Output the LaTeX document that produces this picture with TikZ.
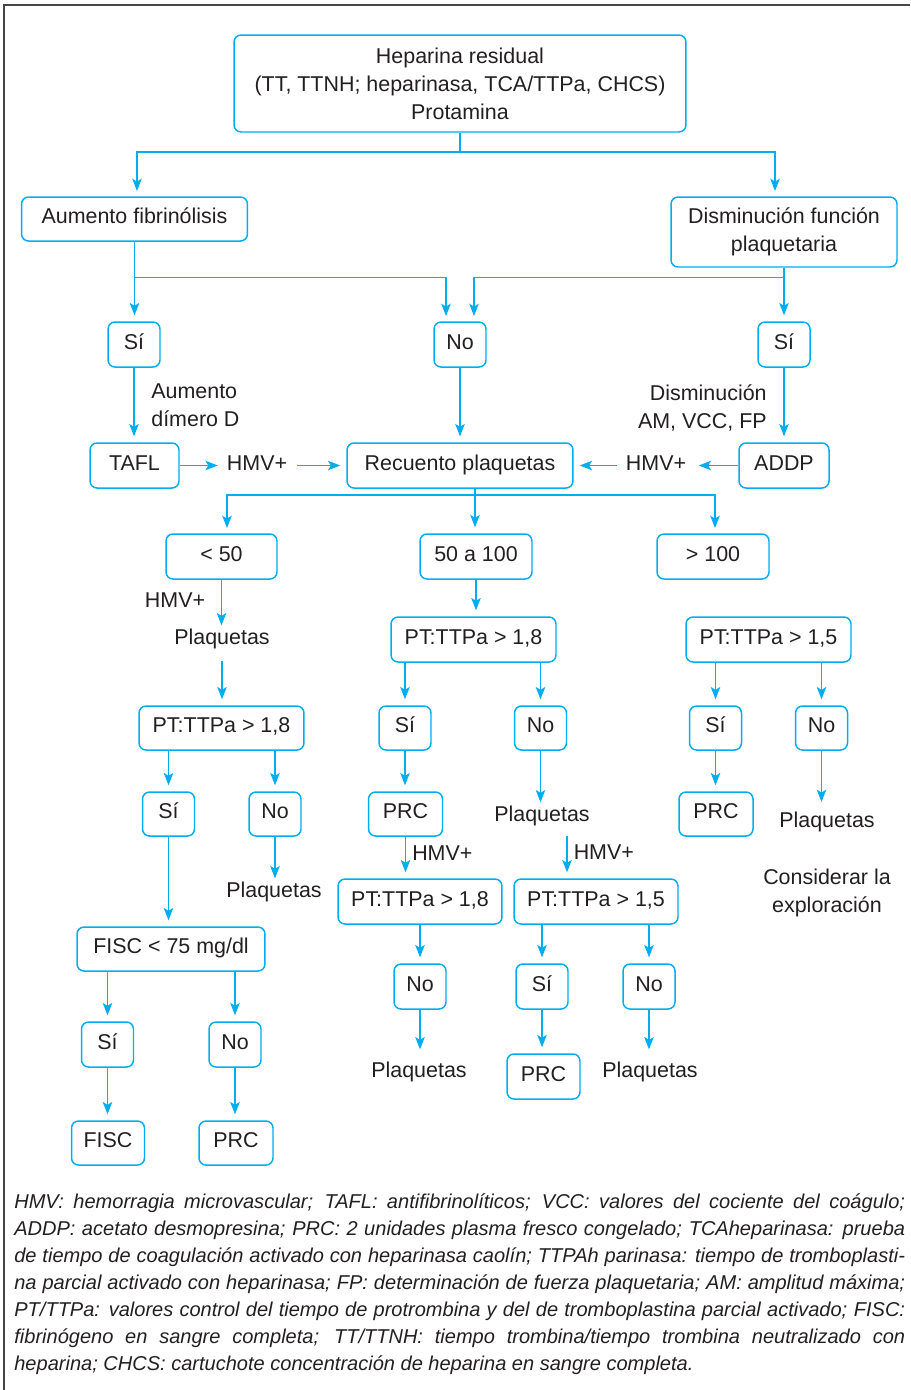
\documentclass[tikz,border=0pt]{standalone}
\usepackage{fontspec}
\setmainfont{Liberation Sans}
\usetikzlibrary{arrows.meta}
\definecolor{flowcyan}{RGB}{0,174,239}
\definecolor{ink}{RGB}{35,31,32}
\definecolor{framegray}{RGB}{70,70,70}

\begin{document}
\begin{tikzpicture}[x=0.02cm, y=-0.02cm,
  font=\fontsize{12.2}{15.9}\selectfont, text=ink,
  sz/.style 2 args={minimum width=#1*0.5691pt, minimum height=#2*0.5691pt},
  box/.style={draw=flowcyan, line width=0.85pt, rounded corners=4pt, inner sep=0pt, align=center},
  bx/.style={box, text height=0.75em, text depth=0.2em},
  lbl/.style={inner sep=0pt, align=center},
  sl/.style={lbl, text height=0.75em, text depth=0.2em},
  ln/.style={draw=flowcyan, line width=0.7pt},
  arr/.style={ln, -{Stealth[length=7pt,width=5.4pt,inset=1.6pt]}, shorten >=3.4pt},
]
\useasboundingbox (0,0) rectangle (910,1390);

% outer frame (top and left rules)
\draw[framegray, line width=1.1pt] (4,1390) -- (4,5) -- (910,5);

% ---------- nodes ----------
\node[box, sz={452}{97}] (top) at (460,83.5) {Heparina residual\\(TT, TTNH; heparinasa, TCA/TTPa, CHCS)\\Protamina};
\node[bx, sz={226}{44}] (aum) at (134.5,219) {Aumento fibrinólisis};
\node[box, sz={226}{70}] (dis) at (784,232) {Disminución función\\plaquetaria};

\node[bx, sz={52}{45}] (si1) at (134,344.5) {Sí};
\node[bx, sz={52}{45}] (no1) at (460,344.5) {No};
\node[bx, sz={52}{45}] (si2) at (784,344.5) {Sí};

\node[lbl, align=left, anchor=west] (aumd) at (151,405.5) {Aumento\\dímero D};
\node[lbl, align=right, anchor=east] (disd) at (767,408) {Disminución\\AM, VCC, FP};

\node[bx, sz={89}{45}] (tafl) at (134.5,465.5) {TAFL};
\node[bx, sz={226}{45}] (rec) at (460,465.5) {Recuento plaquetas};
\node[bx, sz={90}{45}] (addp) at (784,465.5) {ADDP};
\node[sl] (hmvA) at (257,465.5) {HMV+};
\node[sl] (hmvB) at (656,465.5) {HMV+};

\node[bx, sz={111}{45}] (lt50) at (221.5,556.5) {< 50};
\node[bx, sz={112}{45}] (m50) at (476,556.5) {50 a 100};
\node[bx, sz={112}{45}] (gt100) at (713,556.5) {> 100};

\node[sl] (hmvC) at (175,603) {HMV+};
\node[sl] (pq1) at (222,640) {Plaquetas};
\node[bx, sz={165}{45}] (ptM) at (473.5,639.5) {PT:TTPa > 1,8};
\node[bx, sz={165}{45}] (ptR) at (768.5,639.5) {PT:TTPa > 1,5};

\node[bx, sz={165}{44}] (ptL) at (221.5,728) {PT:TTPa > 1,8};
\node[bx, sz={52}{44}] (siM) at (405,728) {Sí};
\node[bx, sz={52}{44}] (noM) at (540.5,728) {No};
\node[bx, sz={52}{44}] (siR) at (715.5,728) {Sí};
\node[bx, sz={52}{44}] (noR) at (821.5,728) {No};

\node[bx, sz={52}{44}] (siL) at (168.5,814) {Sí};
\node[bx, sz={52}{44}] (noL) at (275,814) {No};
\node[bx, sz={74}{44}] (prcM) at (405.5,814) {PRC};
\node[sl] (pqM) at (542,817) {Plaquetas};
\node[bx, sz={74}{44}] (prcR) at (716,814) {PRC};
\node[sl] (pqR) at (827,823) {Plaquetas};

\node[sl] (pqL) at (274,893) {Plaquetas};
\node[lbl] (cons) at (827,893) {Considerar la\\exploración};
\node[bx, sz={164}{45}] (ptM2) at (420,901.5) {PT:TTPa > 1,8};
\node[bx, sz={164}{45}] (ptR2) at (596,901.5) {PT:TTPa > 1,5};
\node[bx, sz={188}{44}] (f75) at (171,949) {FISC < 75 mg/dl};

\node[bx, sz={52}{45}] (noM2) at (420,986.5) {No};
\node[bx, sz={52}{45}] (siR2) at (542,986.5) {Sí};
\node[bx, sz={52}{45}] (noR2) at (649,986.5) {No};
\node[bx, sz={52}{45}] (siF) at (107.5,1044.5) {Sí};
\node[bx, sz={52}{45}] (noF) at (235,1044.5) {No};

\node[sl] (pqM2) at (419,1073) {Plaquetas};
\node[sl] (pqR2) at (650,1073) {Plaquetas};
\node[bx, sz={73}{45}] (prcR2) at (543.5,1076.5) {PRC};
\node[bx, sz={73}{44}] (fisc) at (108,1143) {FISC};
\node[bx, sz={74}{44}] (prcF) at (236,1143) {PRC};

% ---------- connectors ----------
\coordinate (j0) at (460,152);
\coordinate (aIn) at (137,197);
\coordinate (dIn) at (775,197);
\draw[ln] (top.south) -- (j0);
\draw[arr] (j0) -| (aIn);
\draw[arr] (j0) -| (dIn);

\path (aum.south) ++(0,36) coordinate (jL);
\path (dis.south) ++(0,10) coordinate (jR);
\coordinate (nL) at (446,322);
\coordinate (nR) at (474,322);
\draw[arr] (aum.south) -- (aum.south |- si1.north);
\draw[arr] (jL) -| (nL);
\draw[arr] (dis.south) -- (dis.south |- si2.north);
\draw[arr] (jR) -| (nR);

\draw[arr] (si1.south) -- (si1.south |- tafl.north);
\draw[arr] (no1.south) -- (no1.south |- rec.north);
\draw[arr] (si2.south) -- (si2.south |- addp.north);

\draw[arr, shorten >=5pt] (tafl.east) -- (tafl.east -| hmvA.west);
\draw[arr, shorten <=5.5pt] (rec.west -| hmvA.east) -- (rec.west);
\draw[arr, shorten >=7pt] (addp.west) -- (addp.west -| hmvB.east);
\draw[arr, shorten <=5pt] (rec.east -| hmvB.west) -- (rec.east);

\coordinate (jRec) at (475,495);
\coordinate (in50) at (227,534);
\coordinate (in100) at (715,534);
\draw[ln] (rec.south -| jRec) -- (jRec);
\draw[arr] (jRec) -| (in50);
\draw[arr] (jRec) -- (jRec |- m50.north);
\draw[arr] (jRec) -| (in100);

\draw[arr] (lt50.south) -- (lt50.south |- pq1.north);
\draw[arr, shorten <=7pt] (pq1.south) -- (pq1.south |- ptL.north);
\draw[arr] (m50.south) -- (m50.south |- ptM.north);

\draw[arr] (siM.north |- ptM.south) -- (siM.north);
\draw[arr] (noM.north |- ptM.south) -- (noM.north);
\draw[arr] (siR.north |- ptR.south) -- (siR.north);
\draw[arr] (noR.north |- ptR.south) -- (noR.north);
\draw[arr] (siL.north |- ptL.south) -- (siL.north);
\draw[arr] (noL.north |- ptL.south) -- (noL.north);

\draw[arr] (siM.south) -- (siM.south |- prcM.north);
\draw[arr] (noM.south) -- (noM.south |- pqM.north);
\draw[arr] (siR.south) -- (siR.south |- prcR.north);
\draw[arr, shorten >=7pt] (noR.south) -- (noR.south |- pqR.north);
\draw[arr] (noL.south) -- (noL.south |- pqL.north);
\draw[arr] (siL.south) -- (siL.south |- f75.north);

\draw[arr] (prcM.south) -- node[sl, anchor=west, xshift=3.5pt, pos=0.45] (hmvD) {HMV+} (prcM.south |- ptM2.north);
\coordinate (c1) at (567,836);
\draw[arr] (c1) -- node[sl, anchor=west, xshift=3.5pt, pos=0.45] (hmvE) {HMV+} (c1 |- ptR2.north);

\draw[arr] (noM2.north |- ptM2.south) -- (noM2.north);
\draw[arr] (siR2.north |- ptR2.south) -- (siR2.north);
\draw[arr] (noR2.north |- ptR2.south) -- (noR2.north);
\draw[arr, shorten >=8.5pt] (noM2.south) -- (noM2.south |- pqM2.north);
\draw[arr] (siR2.south) -- (siR2.south |- prcR2.north);
\draw[arr, shorten >=8.5pt] (noR2.south) -- (noR2.south |- pqR2.north);

\draw[arr] (siF.north |- f75.south) -- (siF.north);
\draw[arr] (noF.north |- f75.south) -- (noF.north);
\draw[arr] (siF.south) -- (siF.south |- fisc.north);
\draw[arr] (noF.south) -- (noF.south |- prcF.north);

% ---------- abbreviations ----------
\node[lbl, anchor=north west, align=left, font=\fontsize{11.4}{15.45}\selectfont\itshape] (note) at (14,1193) {%
\makebox[17.82cm][s]{HMV: hemorragia microvascular; TAFL: antifibrinolíticos; VCC: valores del cociente del coágulo;}\\
\makebox[17.82cm][s]{ADDP: acetato desmopresina; PRC: 2 unidades plasma fresco congelado; TCAheparinasa: prueba}\\
\makebox[17.82cm][s]{de tiempo de coagulación activado con heparinasa caolín; TTPAh parinasa: tiempo de tromboplasti-}\\
\makebox[17.82cm][s]{na parcial activado con heparinasa; FP: determinación de fuerza plaquetaria; AM: amplitud máxima;}\\
\makebox[17.82cm][s]{PT/TTPa: valores control del tiempo de protrombina y del de tromboplastina parcial activado; FISC:}\\
\makebox[17.82cm][s]{fibrinógeno en sangre completa; TT/TTNH: tiempo trombina/tiempo trombina neutralizado con}\\
heparina; CHCS: cartuchote concentración de heparina en sangre completa.};
\end{tikzpicture}
\end{document}
